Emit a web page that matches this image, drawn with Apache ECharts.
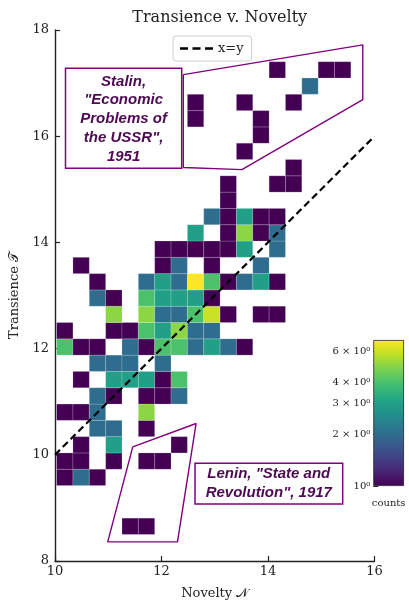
<!DOCTYPE html>
<html>
<head>
<meta charset="utf-8">
<script src="https://cdn.jsdelivr.net/npm/echarts@6/dist/echarts.min.js"></script>
<style>
  html, body { margin: 0; padding: 0; background: #fff; }
  #main { width: 409px; height: 605px; }
</style>
</head>
<body>
<div id="main"></div>
<script>
// 2d histogram: bin origin + width (data units), counts per row from bottom, 18 columns each
var binX0 = 10.03;
var binY0 = 8.50;
var binW = 0.307;

var countRows = [
  [0,0,0,0,1,1,0,0,0,0,0,0,0,0,0,0,0,0], // r0
  [0,0,0,0,0,0,0,0,0,0,0,0,0,0,0,0,0,0],
  [0,0,0,0,0,0,0,0,0,0,0,0,0,0,0,0,0,0],
  [1,2,1,0,0,0,0,0,0,0,0,0,0,0,0,0,0,0],
  [1,1,0,1,0,1,1,0,0,0,0,0,0,0,0,0,0,0],
  [0,1,0,3,0,0,0,1,0,0,0,0,0,0,0,0,0,0], // r5
  [0,0,2,2,0,1,0,0,0,0,0,0,0,0,0,0,0,0],
  [1,1,2,0,0,5,0,0,0,0,0,0,0,0,0,0,0,0],
  [0,0,2,1,0,1,1,2,0,0,0,0,0,0,0,0,0,0],
  [0,1,0,3,3,3,1,4,0,0,0,0,0,0,0,0,0,0],
  [0,0,2,2,2,0,2,0,0,0,0,0,0,0,0,0,0,0], // r10
  [4,1,1,0,2,1,4,4,2,3,2,1,0,0,0,0,0,0],
  [1,0,0,1,1,4,3,5,2,2,0,0,0,0,0,0,0,0],
  [0,0,0,5,0,5,2,2,4,6,1,0,1,1,0,0,0,0],
  [0,0,2,1,0,4,3,3,3,1,0,0,0,0,0,0,0,0],
  [0,0,1,0,0,2,3,2,7,4,1,2,3,1,0,0,0,0], // r15
  [0,1,0,0,0,0,1,2,0,1,0,0,2,0,0,0,0,0],
  [0,0,0,0,0,0,1,1,1,1,1,3,0,2,0,0,0,0],
  [0,0,0,0,0,0,0,0,3,0,1,5,1,2,0,0,0,0],
  [0,0,0,0,0,0,0,0,0,2,1,3,1,1,0,0,0,0],
  [0,0,0,0,0,0,0,0,0,0,1,0,0,0,0,0,0,0], // r20
  [0,0,0,0,0,0,0,0,0,0,1,0,0,1,1,0,0,0],
  [0,0,0,0,0,0,0,0,0,0,0,0,0,0,1,0,0,0],
  [0,0,0,0,0,0,0,0,0,0,0,1,0,0,0,0,0,0],
  [0,0,0,0,0,0,0,0,0,0,0,0,1,0,0,0,0,0],
  [0,0,0,0,0,0,0,0,1,0,0,0,1,0,0,0,0,0], // r25
  [0,0,0,0,0,0,0,0,1,0,0,1,0,0,1,0,0,0],
  [0,0,0,0,0,0,0,0,0,0,0,0,0,0,0,2,0,0],
  [0,0,0,0,0,0,0,0,0,0,0,0,0,1,0,0,1,1]
];

var countMax = 7;
var cbarTicks = [1, 2, 3, 4, 5, 6];
var cbarLabels = [1, 2, 3, 4, 6];

var diagLine = [[10, 10], [16, 16]];
// annotation outlines (data coords)
var stalinPoly = [[12.41, 17.16], [15.78, 17.72], [15.78, 16.69], [13.51, 15.37], [12.41, 15.41], [12.41, 17.16]];
var leninPoly = [[11.46, 10.15], [12.65, 10.59], [12.30, 8.36], [10.99, 8.36], [11.46, 10.15]];

var viridis = ['#440154', '#482475', '#414487', '#355f8d', '#2a788e', '#21918c',
               '#22a884', '#44bf70', '#7ad151', '#bddf26', '#fde725'];

var cells = [];
for (var j = 0; j < countRows.length; j++) {
  for (var i = 0; i < countRows[j].length; i++) {
    var c = countRows[j][i];
    if (c > 0) cells.push([binX0 + i * binW, binY0 + j * binW, Math.log10(c), c]);
  }
}

var serif = 'DejaVu Serif';
var annFont = 'italic bold 15px "Liberation Sans", Arial, sans-serif';
var annColor = '#4d0a52';
var purple = '#800080';
var dashIcon = 'path://M0,0h8v2.4h-8z M12.5,0h8v2.4h-8z M25,0h8v2.4h-8z';

function supLabel(n) {
  return n === 1 ? '10\u2070' : n + ' \u00d7 10\u2070';
}

var chart = echarts.init(document.getElementById('main'));

var option = {
  animation: false,
  backgroundColor: '#fff',
  title: {
    text: 'Transience v. Novelty',
    left: 214.7,
    textAlign: 'center',
    top: 5,
    textStyle: { fontFamily: serif, fontSize: 16, fontWeight: 'normal', color: '#222' }
  },
  legend: {
    data: [{ name: 'x=y', icon: dashIcon }],
    left: 173,
    top: 36,
    padding: [6, 8, 6, 7],
    itemWidth: 33,
    itemHeight: 12,
    itemGap: 6,
    borderColor: '#d0d0d0',
    borderWidth: 1,
    borderRadius: 3,
    textStyle: { fontFamily: serif, fontSize: 13, color: '#222' }
  },
  visualMap: {
    type: 'continuous',
    show: false,
    seriesIndex: 0,
    dimension: 2,
    min: 0,
    max: Math.log10(countMax),
    inRange: { color: viridis }
  },
  grid: [
    { left: 55, right: 34.5, top: 30, bottom: 42 },
    { left: 373.3, top: 340, width: 30.7, height: 146 }
  ],
  xAxis: [
    {
      type: 'value', gridIndex: 0, min: 10, max: 16, interval: 2,
      name: 'Novelty \ud835\udca9', nameLocation: 'middle', nameGap: 26,
      nameTextStyle: { fontFamily: serif, fontSize: 13, color: '#222' },
      axisLine: { lineStyle: { color: '#222', width: 1.4 } },
      axisTick: { inside: true, length: 5, lineStyle: { color: '#222', width: 1.2 } },
      axisLabel: { fontFamily: serif, fontSize: 13, color: '#222', margin: 4 },
      splitLine: { show: false }
    },
    {
      type: 'category', gridIndex: 1, data: [''],
      name: 'counts', nameLocation: 'middle', nameGap: 12,
      nameTextStyle: { fontFamily: serif, fontSize: 10, color: '#222' },
      axisLine: { show: false }, axisTick: { show: false }, axisLabel: { show: false }
    }
  ],
  yAxis: [
    {
      type: 'value', gridIndex: 0, min: 8, max: 18, interval: 2,
      name: 'Transience \ud835\udcaf', nameLocation: 'middle', nameGap: 33,
      nameTextStyle: { fontFamily: serif, fontSize: 13, color: '#222' },
      axisLine: { show: true, lineStyle: { color: '#222', width: 1.4 } },
      axisTick: { show: true, inside: true, length: 5, lineStyle: { color: '#222', width: 1.2 } },
      axisLabel: { fontFamily: serif, fontSize: 13, color: '#222', margin: 6 },
      splitLine: { show: false }
    },
    {
      type: 'value', gridIndex: 1, min: 0, max: Math.log10(countMax), position: 'left',
      axisLine: { show: false },
      axisTick: {
        show: true, inside: true, length: 5,
        customValues: cbarTicks.map(function (v) { return Math.log10(v); }),
        lineStyle: { color: '#222', width: 1 }
      },
      axisLabel: {
        customValues: cbarLabels.map(function (v) { return Math.log10(v); }),
        fontFamily: serif, fontSize: 10, color: '#222', margin: 3,
        formatter: function (v) { return supLabel(Math.round(Math.pow(10, v))); }
      },
      splitLine: { show: false }
    }
  ],
  series: [
    {
      type: 'custom',
      xAxisIndex: 0, yAxisIndex: 0,
      data: cells,
      encode: { x: 0, y: 1 },
      renderItem: function (params, api) {
        var x = api.value(0), y = api.value(1);
        var p0 = api.coord([x, y + binW]);
        var p1 = api.coord([x + binW, y]);
        return {
          type: 'rect',
          shape: { x: p0[0], y: p0[1], width: p1[0] - p0[0], height: p1[1] - p0[1] },
          style: { fill: api.visual('color'), stroke: 'rgba(255,255,255,0.3)', lineWidth: 0.6 }
        };
      },
      silent: true,
      z: 2
    },
    {
      name: 'x=y',
      type: 'line',
      data: diagLine,
      symbol: 'none',
      lineStyle: { color: '#000', width: 2.2, type: [7, 4] },
      itemStyle: { color: '#000' },
      silent: true,
      z: 5
    },
    {
      type: 'line', data: stalinPoly, symbol: 'none', silent: true,
      lineStyle: { color: purple, width: 1.4 }, z: 4
    },
    {
      type: 'line', data: leninPoly, symbol: 'none', silent: true,
      lineStyle: { color: purple, width: 1.4 }, z: 4
    },
    {
      type: 'bar',
      xAxisIndex: 1, yAxisIndex: 1,
      data: [Math.log10(countMax)],
      barWidth: '100%',
      silent: true,
      itemStyle: {
        borderColor: '#222', borderWidth: 0.8,
        color: {
          type: 'linear', x: 0, y: 1, x2: 0, y2: 0,
          colorStops: viridis.map(function (c, k) { return { offset: k / (viridis.length - 1), color: c }; })
        }
      },
      z: 2
    }
  ],
  graphic: [
    {
      type: 'rect', z: 10,
      shape: { x: 65.5, y: 68.3, width: 116.2, height: 100 },
      style: { fill: '#fff', stroke: purple, lineWidth: 1.5 }
    },
    {
      type: 'text', z: 11,
      style: {
        x: 123.6, y: 119, text: 'Stalin,\n"Economic\nProblems of\nthe USSR",\n1951',
        align: 'center', verticalAlign: 'middle', font: annFont, fill: annColor, lineHeight: 18.8
      }
    },
    {
      type: 'rect', z: 10,
      shape: { x: 195, y: 463.3, width: 147.7, height: 40.7 },
      style: { fill: '#fff', stroke: purple, lineWidth: 1.5 }
    },
    {
      type: 'text', z: 11,
      style: {
        x: 268.8, y: 483.5, text: 'Lenin, "State and\nRevolution", 1917',
        align: 'center', verticalAlign: 'middle', font: annFont, fill: annColor, lineHeight: 19
      }
    }
  ]
};

chart.setOption(option);
</script>
</body>
</html>
